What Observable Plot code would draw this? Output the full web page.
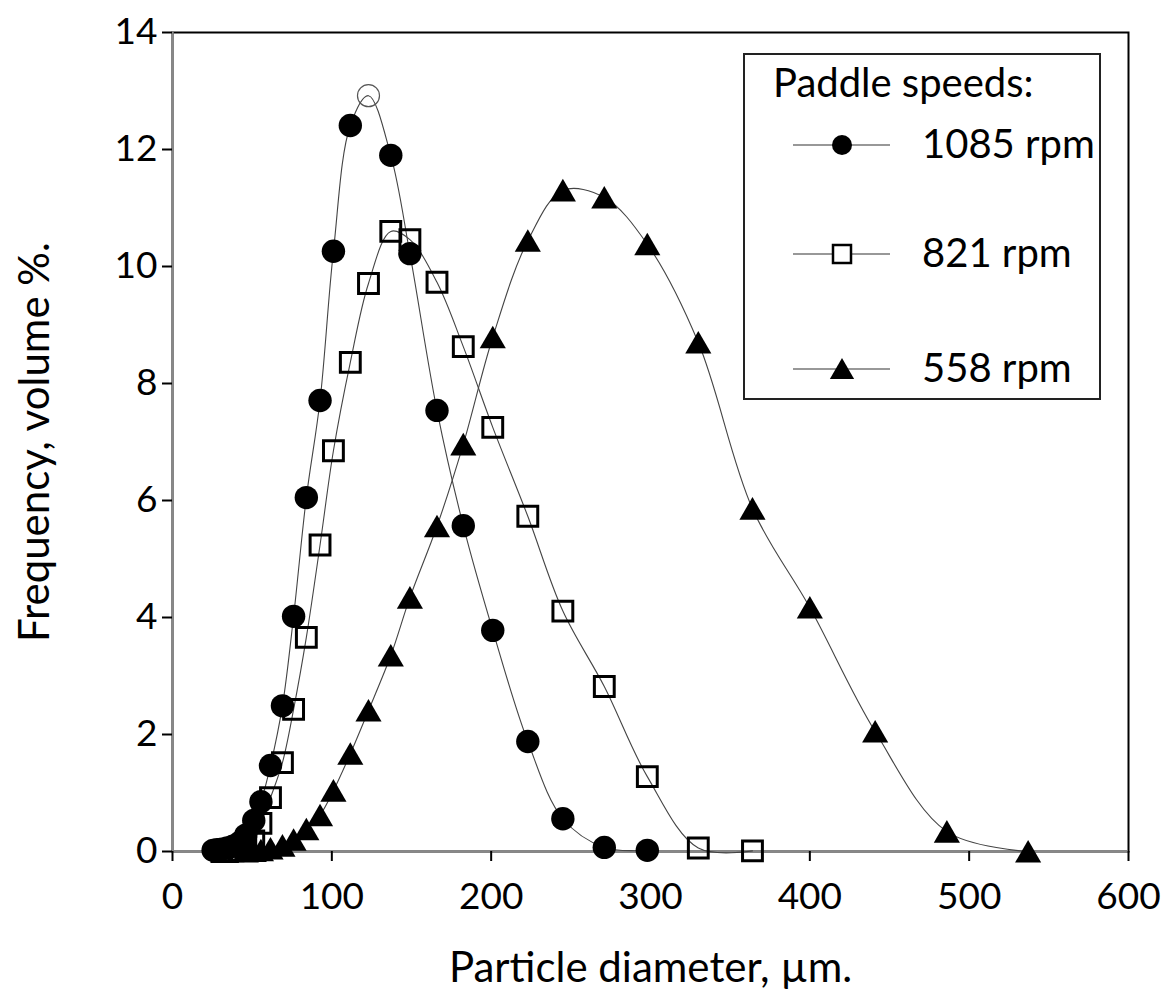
<!DOCTYPE html>
<html><head><meta charset="utf-8">
<script src="https://cdn.jsdelivr.net/npm/d3@7"></script>
<script src="https://cdn.jsdelivr.net/npm/@observablehq/plot@0.6"></script>
<style>
body{margin:0;background:#fff;}
#wrap{position:relative;width:1176px;height:1004px;font-family:Lato, sans-serif;}
#legend{position:absolute;left:743px;top:53px;width:354px;height:343px;border:2px solid #222;background:#fff;}
#legend svg{display:block;}
</style></head><body><div id="wrap"></div>
<script>
// Particle size bins (µm) shared by all series
const diameters = [25.5, 28, 31, 34.5, 38, 42, 46, 51, 55.5, 61.5, 69, 76, 84, 92.6, 101, 111.6, 123, 137, 149, 166, 182.5, 201, 223, 245, 271, 298, 330, 364, 400, 441, 486, 537];
// Frequency, volume % per paddle speed (null = no point)
const freq1085 = [0.02, 0.03, 0.04, 0.06, 0.09, 0.15, 0.28, 0.53, 0.85, 1.47, 2.49, 4.02, 6.05, 7.71, 10.26, 12.41, 12.92, 11.9, 10.22, 7.54, 5.57, 3.78, 1.88, 0.56, 0.07, 0.02, null, null, null, null, null, null];
const freq821 = [null, null, 0, 0, 0.01, 0.02, 0.06, 0.18, 0.48, 0.92, 1.52, 2.43, 3.66, 5.24, 6.85, 8.36, 9.71, 10.6, 10.46, 9.73, 8.63, 7.25, 5.73, 4.11, 2.82, 1.28, 0.06, 0.01, null, null, null, null];
const freq558 = [null, null, null, null, null, null, 0, 0.01, 0.02, 0.05, 0.1, 0.2, 0.38, 0.62, 1.04, 1.67, 2.41, 3.35, 4.34, 5.56, 6.96, 8.79, 10.44, 11.3, 11.18, 10.38, 8.7, 5.86, 4.17, 2.05, 0.34, 0];
const seriesNames = ["1085 rpm", "821 rpm", "558 rpm"];
const legendTitle = "Paddle speeds:";
const xTicks = [0, 100, 200, 300, 400, 500, 600];
const yTicks = [0, 2, 4, 6, 8, 10, 12, 14];
const xLabel = "Particle diameter, µm.";
const yLabel = "Frequency, volume %.";
const hollowPeakDiameter = 123; // 1085 rpm peak point drawn as an open circle

const allSeries = [freq1085, freq821, freq558];
const rows = [];
allSeries.forEach((vals, s) => {
  vals.forEach((v, i) => {
    if (v != null) rows.push({series: seriesNames[s], d: diameters[i], f: v});
  });
});
const circles = rows.filter(r => r.series === seriesNames[0] && r.d !== hollowPeakDiameter);
const peak = rows.filter(r => r.series === seriesNames[0] && r.d === hollowPeakDiameter);
const squares = rows.filter(r => r.series === seriesNames[1]);
const triangles = rows.filter(r => r.series === seriesNames[2]);

const chart = Plot.plot({
  width: 1176, height: 1004,
  marginLeft: 172, marginRight: 48, marginTop: 32, marginBottom: 153,
  style: {fontFamily: "Lato, sans-serif", fontSize: "37px", color: "#000", background: "#fff"},
  x: {domain: [0, 600]},
  y: {domain: [0, 14]},
  marks: [
    Plot.frame({stroke: "#000", strokeWidth: 2}),
    Plot.ruleX([0], {stroke: "#888", strokeWidth: 2.5}),
    Plot.ruleY([0], {stroke: "#888", strokeWidth: 2.5}),
    Plot.axisX({ticks: xTicks, tickSize: 10, tickPadding: 21, tickFormat: d => String(d), strokeWidth: 2,
      label: xLabel, labelAnchor: "center", labelArrow: "none", labelOffset: 130}),
    Plot.axisY({ticks: yTicks, tickSize: 10, tickPadding: 5, tickFormat: d => String(d), strokeWidth: 2,
      label: yLabel, labelAnchor: "center", labelArrow: "none", labelOffset: 153}),
    Plot.line(rows, {x: "d", y: "f", z: "series", curve: "catmull-rom", stroke: "#444", strokeWidth: 1.1}),
    Plot.dot(triangles, {x: "d", y: "f", symbol: "triangle", r: 9.7, fill: "#000", stroke: "none", dy: 3.5}),
    Plot.dot(squares, {x: "d", y: "f", symbol: "square", r: 11.2, fill: "none", stroke: "#000", strokeWidth: 3}),
    Plot.dot(circles, {x: "d", y: "f", symbol: "circle", r: 11.7, fill: "#000", stroke: "none"}),
    Plot.dot(peak, {x: "d", y: "f", symbol: "circle", r: 11, fill: "none", stroke: "#555", strokeWidth: 1.2})
  ]
});
const wrap = document.getElementById("wrap");
wrap.appendChild(chart);
// Larger axis titles
chart.querySelectorAll('g[aria-label="x-axis label"] text, g[aria-label="y-axis label"] text')
  .forEach(t => t.setAttribute("font-size", "42px"));
chart.querySelectorAll('g[aria-label="x-axis label"], g[aria-label="y-axis label"]')
  .forEach(g => g.setAttribute("font-size", "42px"));

// Legend (inside plot area, top-right)
const leg = document.createElement("div");
leg.id = "legend";
wrap.appendChild(leg);
const ls = d3.select(leg).append("svg").attr("width", 354).attr("height", 343)
  .style("font-family", "Lato, sans-serif").style("font-size", "40px");
ls.append("text").attr("x", 28).attr("y", 42).text(legendTitle);
const entryY = [90, 199, 314];
const symbols = [d3.symbolCircle, d3.symbolSquare, d3.symbolTriangle];
seriesNames.forEach((name, i) => {
  const y = entryY[i];
  ls.append("line").attr("x1", 48).attr("x2", 145).attr("y1", y).attr("y2", y).attr("stroke", "#333").attr("stroke-width", 1.2);
  const sym = ls.append("path").attr("transform", `translate(97,${y + (i === 2 ? 3 : 0)})`);
  if (i === 0) sym.attr("d", d3.symbol(symbols[0], Math.PI * 100)()).attr("fill", "#000");
  if (i === 1) sym.attr("d", d3.symbol(symbols[1], 18 * 18)()).attr("fill", "#fff").attr("stroke", "#000").attr("stroke-width", 2.5);
  if (i === 2) sym.attr("d", d3.symbol(symbols[2], Math.PI * 9 * 9)()).attr("fill", "#000");
  ls.append("text").attr("x", 177).attr("y", y + 13).text(name);
});
</script></body></html>
